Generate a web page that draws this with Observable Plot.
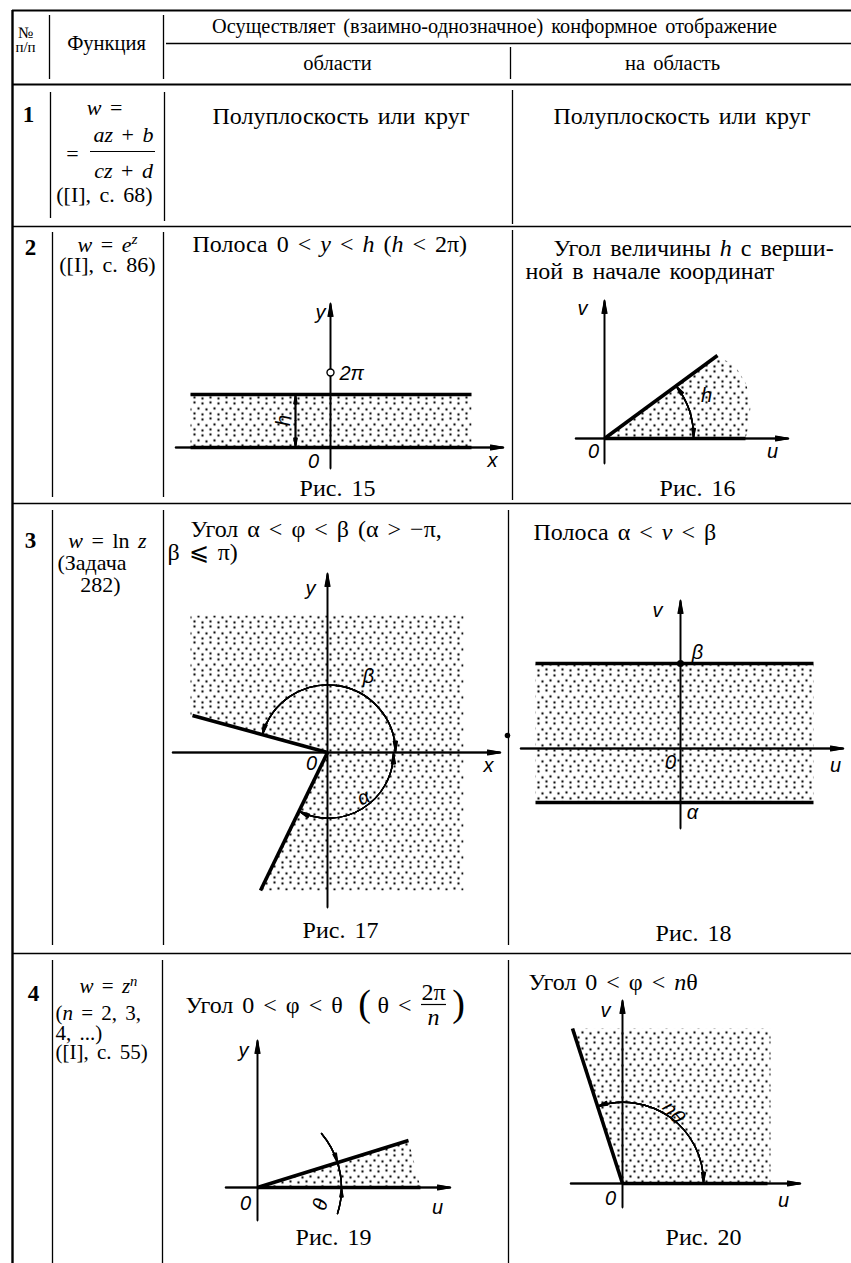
<!DOCTYPE html>
<html><head><meta charset="utf-8">
<script src="https://cdn.jsdelivr.net/npm/d3@7"></script>
<script src="https://cdn.jsdelivr.net/npm/@observablehq/plot@0.6"></script>
<style>body{margin:0;background:#fff}</style>
</head><body><div id="chart"></div>
<script>
// ---------- table grid ----------
const hLines = [
  {y: 10, x1: 12, x2: 851, w: 2},
  {y: 43, x1: 166, x2: 851, w: 1.4},
  {y: 84, x1: 12, x2: 851, w: 2},
  {y: 226, x1: 12, x2: 851, w: 1.6},
  {y: 503, x1: 12, x2: 851, w: 1.6},
  {y: 953, x1: 12, x2: 851, w: 1.6}
];
const vLines = [
  {x: 12, y1: 10, y2: 1263, w: 2.4},
  {x: 49, y1: 15, y2: 79, w: 1.3}, {x: 163, y1: 15, y2: 79, w: 1.3}, {x: 510, y1: 47, y2: 79, w: 1.3},
  {x: 50, y1: 92, y2: 218, w: 1.3}, {x: 164, y1: 92, y2: 221, w: 1.3}, {x: 512, y1: 90, y2: 224, w: 1.3},
  {x: 52, y1: 232, y2: 497, w: 1.3}, {x: 163, y1: 232, y2: 497, w: 1.3}, {x: 512, y1: 230, y2: 500, w: 1.3},
  {x: 52, y1: 510, y2: 945, w: 1.3}, {x: 163, y1: 510, y2: 945, w: 1.3}, {x: 508, y1: 510, y2: 945, w: 1.3},
  {x: 52, y1: 960, y2: 1263, w: 1.3}, {x: 162, y1: 960, y2: 1263, w: 1.3}, {x: 508, y1: 960, y2: 1263, w: 1.3}
];
const fractionBars = [
  {y: 151, x1: 90, x2: 155},
  {y: 1004, x1: 421, x2: 446}
];

// ---------- texts ----------
const headerTexts = [
  {x: 25, y: 32, t: "№", s: 16},
  {x: 25, y: 47, t: "п/п", s: 15},
  {x: 106, y: 43, t: "Функция", s: 20.5},
  {x: 494, y: 26, t: "Осуществляет (взаимно-однозначное) конформное отображение", s: 20.3},
  {x: 337, y: 63, t: "области", s: 20.5},
  {x: 672, y: 63, t: "на область", s: 20.5}
];
const rowNumbers = [
  {x: 28, y: 114, t: "1"}, {x: 30, y: 247, t: "2"}, {x: 30, y: 540, t: "3"}, {x: 33, y: 993, t: "4"}
];
const funcTexts = [
  {x: 104, y: 107, t: "_w_ ="},
  {x: 72, y: 153, t: "="},
  {x: 123, y: 134, t: "_az_ + _b_"},
  {x: 123, y: 170, t: "_cz_ + _d_"},
  {x: 104, y: 194, t: "([I], с. 68)"},
  {x: 107, y: 244, t: "_w_ = _e_^z"},
  {x: 107, y: 264, t: "([I], с. 86)"},
  {x: 107, y: 540, t: "_w_ = ln _z_"},
  {x: 57, y: 562, t: "(Задача", a: "start"},
  {x: 100, y: 584, t: "282)"}
];
const funcTextsRow4 = [
  {x: 108, y: 986, t: "_w_ = _z_^n"},
  {x: 55, y: 1013, t: "(_n_ = 2, 3,", a: "start"},
  {x: 55, y: 1033, t: "4, ...)", a: "start"},
  {x: 55, y: 1052, t: "([I], с. 55)", a: "start"}
];
const bodyTexts = [
  {x: 212, y: 116, t: "Полуплоскость или круг", a: "start"},
  {x: 553, y: 116, t: "Полуплоскость или круг", a: "start"},
  {x: 192, y: 244, t: "Полоса 0 < _y_ < _h_ (_h_ < 2π)", a: "start"},
  {x: 553, y: 248, t: "Угол величины _h_ с верши-", a: "start"},
  {x: 525, y: 271, t: "ной в начале координат", a: "start"},
  {x: 337, y: 488, t: "Рис. 15"},
  {x: 697, y: 488, t: "Рис. 16"},
  {x: 190, y: 529, t: "Угол α < φ < β (α > −π,", a: "start"},
  {x: 167, y: 552, t: "β ⩽ π)", a: "start"},
  {x: 533, y: 532, t: "Полоса α < _v_ < β", a: "start"},
  {x: 340, y: 930, t: "Рис. 17"},
  {x: 693, y: 933, t: "Рис. 18"},
  {x: 185, y: 1005, t: "Угол 0 < φ < θ", a: "start"},
  {x: 377, y: 1005, t: "θ <", a: "start"},
  {x: 433, y: 992, t: "2π"},
  {x: 433, y: 1017, t: "_n_"},
  {x: 528, y: 982, t: "Угол 0 < φ < _n_θ", a: "start"},
  {x: 333, y: 1237, t: "Рис. 19"},
  {x: 703, y: 1237, t: "Рис. 20"}
];
const bigParens = [{x: 364, y: 1003, t: "("}, {x: 458, y: 1003, t: ")"}];
const figLabels = [
  {x: 320, y: 312, t: "y"}, {x: 339, y: 373, t: "2π", a: "start"}, {x: 283, y: 420, t: "h", r: -90},
  {x: 313, y: 461, t: "0"}, {x: 492, y: 460, t: "x"},
  {x: 582, y: 308, t: "v"}, {x: 706, y: 395, t: "h"}, {x: 593, y: 451, t: "0"}, {x: 772, y: 451, t: "u"},
  {x: 310, y: 588, t: "y"}, {x: 368, y: 676, t: "β"}, {x: 363, y: 797, t: "α", r: -25},
  {x: 311, y: 763, t: "0"}, {x: 488, y: 765, t: "x"},
  {x: 657, y: 610, t: "v"}, {x: 697, y: 652, t: "β"}, {x: 692, y: 812, t: "α"},
  {x: 670, y: 762, t: "0"}, {x: 835, y: 765, t: "u"},
  {x: 243, y: 1050, t: "y"}, {x: 320, y: 1204, t: "θ", r: -75}, {x: 245, y: 1203, t: "0"}, {x: 437, y: 1207, t: "u"},
  {x: 605, y: 1010, t: "v"}, {x: 673, y: 1112, t: "nθ", r: 50}, {x: 610, y: 1198, t: "0"}, {x: 783, y: 1200, t: "u"}
];

// ---------- figures ----------
const stippleRegions = [
  {id: "fig15", pts: [[190, 394], [471, 394], [471, 447], [190, 447]]},
  {id: "fig16", pts: [[604, 438], [717, 355], [735, 366], [746, 384], [750, 406], [748, 426], [745, 438]]},
  {id: "fig17", pts: [[327, 752], [190, 716], [190, 615], [463, 615], [463, 890], [260, 890]]},
  {id: "fig18", pts: [[535, 663], [813, 663], [813, 802], [535, 802]]},
  {id: "fig19", pts: [[257, 1187], [408, 1140], [420, 1187]]},
  {id: "fig20", pts: [[622, 1183], [572, 1028], [770, 1028], [770, 1183]]}
];
const axisArrows = [
  {x1: 330, y1: 468, x2: 330, y2: 303}, {x1: 175, y1: 447, x2: 503, y2: 447},
  {x1: 604, y1: 463, x2: 604, y2: 300}, {x1: 575, y1: 438, x2: 788, y2: 438},
  {x1: 327, y1: 907, x2: 327, y2: 573}, {x1: 172, y1: 752, x2: 500, y2: 752},
  {x1: 680, y1: 828, x2: 680, y2: 600}, {x1: 520, y1: 748, x2: 843, y2: 748},
  {x1: 257, y1: 1220, x2: 257, y2: 1040}, {x1: 225, y1: 1187, x2: 450, y2: 1187},
  {x1: 622, y1: 1207, x2: 622, y2: 1000}, {x1: 570, y1: 1183, x2: 800, y2: 1183}
];
const boundaries = [
  {x1: 190, y1: 394, x2: 471, y2: 394}, {x1: 190, y1: 447, x2: 471, y2: 447},
  {x1: 604, y1: 438, x2: 717, y2: 355}, {x1: 604, y1: 438, x2: 745, y2: 438},
  {x1: 327, y1: 752, x2: 192, y2: 715}, {x1: 327, y1: 752, x2: 260, y2: 890},
  {x1: 535, y1: 663, x2: 813, y2: 663}, {x1: 535, y1: 802, x2: 813, y2: 802},
  {x1: 257, y1: 1187, x2: 408, y2: 1140}, {x1: 257, y1: 1187, x2: 420, y2: 1187},
  {x1: 622, y1: 1183, x2: 572, y2: 1028}, {x1: 622, y1: 1183, x2: 767, y2: 1183}
];
const arcArrows = [
  {x1: 295, y1: 420, x2: 295, y2: 395, bend: 0, head: 9},
  {x1: 295, y1: 420, x2: 295, y2: 446, bend: 0, head: 9},
  {x1: 689, y1: 410, x2: 676, y2: 386, bend: -9, head: 10},
  {x1: 689, y1: 410, x2: 693, y2: 437, bend: 9, head: 10},
  {x1: 336, y1: 685, x2: 262, y2: 734, bend: -41, head: 11},
  {x1: 336, y1: 685, x2: 395, y2: 751, bend: 41, head: 11},
  {x1: 362, y1: 808, x2: 393, y2: 753, bend: -29, head: 11},
  {x1: 362, y1: 808, x2: 299, y2: 811, bend: 29, head: 11},
  {x1: 321, y1: 1133, x2: 337, y2: 1162, bend: 11, head: 10},
  {x1: 337, y1: 1213, x2: 341, y2: 1188, bend: -9, head: 10},
  {x1: 337, y1: 1162, x2: 341, y2: 1187, bend: 8.6, head: 0},
  {x1: 670, y1: 1117, x2: 703, y2: 1182, bend: 27, head: 11},
  {x1: 670, y1: 1117, x2: 597, y2: 1106, bend: -27, head: 11}
];
const openPoints = [{x: 330, y: 372}];
const solidPoints = [{x: 680, y: 663, r: 3.2}, {x: 507, y: 735, r: 2}];

// ---------- build ----------
const serif = "Liberation Serif, DejaVu Serif, serif";
const sans = "Liberation Sans, DejaVu Sans, sans-serif";

function texts(rows, def, opts) {
  return ["start", "middle", "end"].map(a =>
    Plot.text(rows.filter(r => (r.a || def) === a), {
      x: "x", y: "y", text: "t", textAnchor: a, lineAnchor: "middle",
      fill: "black", rotate: d => d.r || 0, ...opts
    }));
}
// overlaid arrowheads of growing angle give a filled-looking head
const headAngles = [4, 10, 16, 22];
function filledArrows(rows, opts) {
  return headAngles.map(h => Plot.arrow(rows, {x1: "x1", y1: "y1", x2: "x2", y2: "y2", stroke: "black", headAngle: h, ...opts}));
}

const stipplePts = stippleRegions.flatMap(r => r.pts.map(([x, y]) => ({id: r.id, x, y})));

const svg = Plot.plot({
  width: 851, height: 1263, margin: 0,
  x: {domain: [0, 851], range: [0, 851], axis: null},
  y: {domain: [0, 1263], range: [0, 1263], axis: null},
  style: {background: "white", fontFamily: serif},
  marks: [
    Plot.line(stipplePts, {x: "x", y: "y", z: "id", curve: "linear-closed", fill: "url(#stip)", stroke: "none"}),
    Plot.ruleY(hLines, {y: "y", x1: "x1", x2: "x2", strokeWidth: "w", stroke: "black"}),
    Plot.ruleX(vLines, {x: "x", y1: "y1", y2: "y2", strokeWidth: "w", stroke: "black"}),
    Plot.ruleY(fractionBars, {y: "y", x1: "x1", x2: "x2", strokeWidth: 1.2, stroke: "black"}),
    ...filledArrows(axisArrows, {strokeWidth: 1.3, headLength: 15}),
    Plot.link(boundaries, {x1: "x1", y1: "y1", x2: "x2", y2: "y2", stroke: "black", strokeWidth: 3.6, strokeLinecap: "butt"}),
    ...arcArrows.flatMap(a => filledArrows([a], {bend: a.bend, headLength: a.head, strokeWidth: 1.4})),
    Plot.dot(openPoints, {x: "x", y: "y", r: 3.5, fill: "white", stroke: "black", strokeWidth: 1.4}),
    Plot.dot(solidPoints, {x: "x", y: "y", r: "r", fill: "black", stroke: "none"}),
    ...texts(headerTexts, "middle", {fontSize: "s", fontFamily: serif}),
    ...texts(rowNumbers, "middle", {fontSize: 23, fontFamily: serif, fontWeight: "bold"}),
    ...texts(funcTexts, "middle", {fontSize: 22, fontFamily: serif}),
    ...texts(funcTextsRow4, "middle", {fontSize: 21, fontFamily: serif}),
    ...texts(bodyTexts, "middle", {fontSize: 24, fontFamily: serif}),
    ...texts(bigParens, "middle", {fontSize: 38, fontFamily: serif}),
    ...texts(figLabels, "middle", {fontSize: 20, fontFamily: sans, fontStyle: "italic"})
  ]
});

// stipple pattern (a fill style)
const defs = d3.select(svg).insert("defs", ":first-child");
const pat = defs.append("pattern").attr("id", "stip").attr("width", 16).attr("height", 16).attr("patternUnits", "userSpaceOnUse");
for (const [cx, cy] of [[2, 2], [10, 3], [6, 8], [14, 9], [2, 13], [10, 14]])
  pat.append("circle").attr("cx", cx).attr("cy", cy).attr("r", 1.15).attr("fill", "black");

// italic / superscript markup inside text
const NS = "http://www.w3.org/2000/svg";
svg.querySelectorAll("text").forEach(t => {
  const target = t.querySelector("tspan") || t;
  const s = target.textContent;
  if (!/[_^]/.test(s)) return;
  target.textContent = "";
  for (const p of s.split(/(_[^_]+_|\^.)/)) {
    if (!p) continue;
    const ts = document.createElementNS(NS, "tspan");
    if (p[0] === "_") { ts.textContent = p.slice(1, -1); ts.setAttribute("font-style", "italic"); }
    else if (p[0] === "^") { ts.textContent = p.slice(1); ts.setAttribute("font-style", "italic"); ts.setAttribute("font-size", "70%"); ts.setAttribute("dy", "-0.5em"); }
    else ts.textContent = p;
    target.appendChild(ts);
  }
});
svg.setAttribute("word-spacing", "3");
document.getElementById("chart").appendChild(svg);
</script></body></html>
